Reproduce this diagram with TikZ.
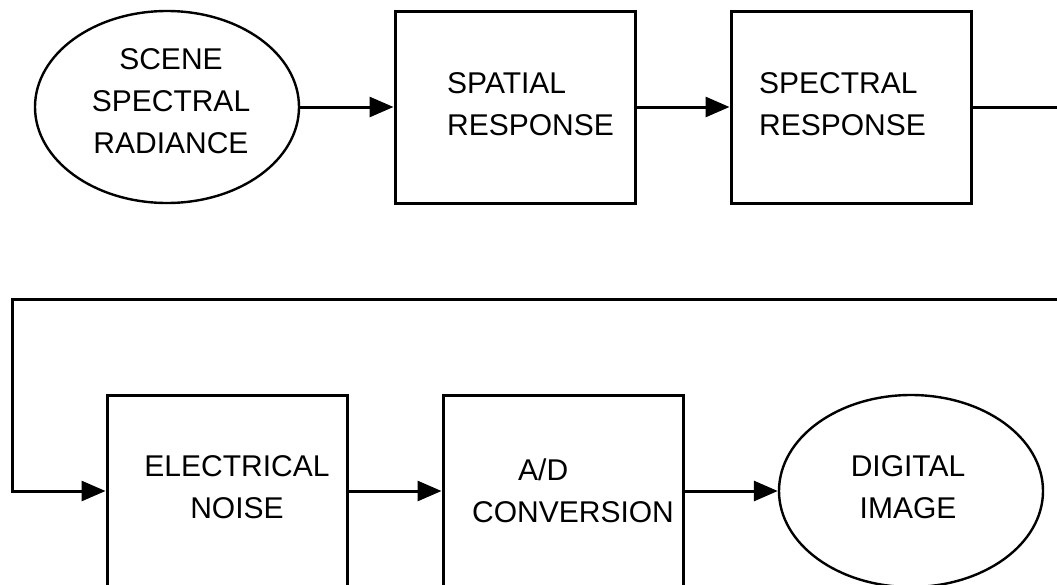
\documentclass[tikz,border=0pt]{standalone}
\usepackage{fontspec}
\setmainfont{Liberation Sans}
\usetikzlibrary{arrows.meta,shapes.geometric}

\tikzset{
  blk/.style={draw, line width=3pt, minimum width=240pt, minimum height=192pt, inner sep=0pt},
  oval/.style={draw, ellipse, line width=2.4pt, minimum width=264pt, minimum height=192pt, inner sep=0pt},
  lbl/.style={font=\fontsize{30}{42}\selectfont, inner sep=0pt, anchor=base},
  flow/.style={line width=3pt, -{Triangle[length=24pt,width=20pt]}},
}

\begin{document}
\begin{tikzpicture}[x=1pt,y=-1pt]
  %%%%% FRAME %%%%%
  \useasboundingbox (0,0) rectangle (1057,584);
  \clip (0,0) rectangle (1057,584);

  %%%%% TOP ROW %%%%%
  \node[oval] (scene) at (167,107) {};
  \node[blk] (spatial) at (515,107) {};
  \node[blk] (spectral) at (851,107) {};
  \node[lbl, align=center] (scenetxt) at (171,153) {SCENE\\SPECTRAL\\RADIANCE};
  \node[lbl, align=left, anchor=base west] (spatialtxt) at (447,135) {SPATIAL\\RESPONSE};
  \node[lbl, align=left, anchor=base west] (spectraltxt) at (759,135) {SPECTRAL\\RESPONSE};

  %%%%% BOTTOM ROW %%%%%
  \node[blk] (noise) at (227,491) {};
  \node[blk] (adc) at (563,491) {};
  \node[oval] (image) at (911,491) {};
  \node[lbl, align=center] (noisetxt) at (237,518) {ELECTRICAL\\NOISE};
  \node[lbl, align=left, anchor=base west] (adctxt) at (472,522) {\hspace*{46pt}A/D\\CONVERSION};
  \node[lbl, align=center] (imagetxt) at (908,518) {DIGITAL\\IMAGE};

  %%%%% CONNECTORS %%%%%
  \coordinate (outR) at (1057,107);
  \coordinate (backR) at (1057,299);
  \coordinate (backL) at (12,299);
  \coordinate (downL) at (12,491);

  \draw[flow] (scene) -- (spatial);
  \draw[flow] (spatial) -- (spectral);
  \draw[line width=3pt] (spectral) -- (outR);
  \draw[flow] (backR) -- (backL) -- (downL) -- (noise);
  \draw[flow] (noise) -- (adc);
  \draw[flow] (adc) -- (image);
\end{tikzpicture}
\end{document}
